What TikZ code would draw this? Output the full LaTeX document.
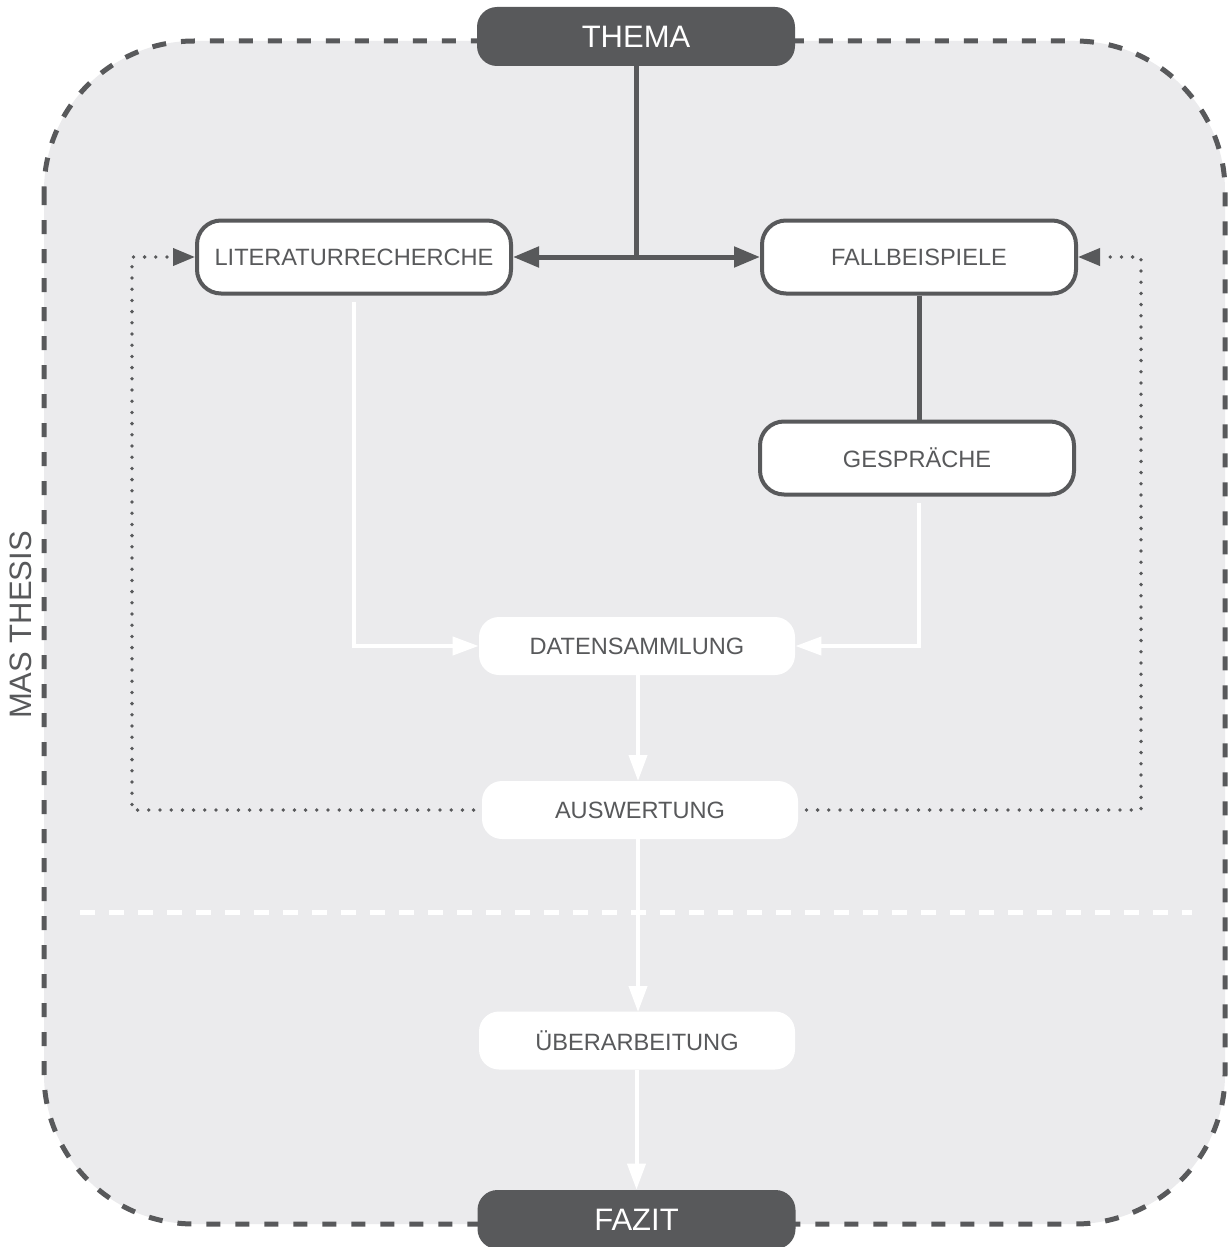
\documentclass[tikz,border=0pt]{standalone}
\usepackage{fontspec}
\setmainfont{Liberation Sans}
\usetikzlibrary{arrows.meta}
\definecolor{dk}{HTML}{58595B}
\definecolor{bg}{HTML}{EBEBED}
\begin{document}
\begin{tikzpicture}[x=0.5pt,y=-0.5pt,
  titlebox/.style={fill=dk, text=white, rounded corners=10pt, minimum width=159pt, minimum height=29.5pt, inner sep=0pt, font=\fontsize{15.5}{18}\selectfont},
  framebox/.style={draw=dk, line width=2pt, fill=white, text=dk, rounded corners=12pt, minimum width=157pt, minimum height=36.5pt, inner sep=0pt, font=\fontsize{11.8}{14}\selectfont},
  plainbox/.style={fill=white, text=dk, rounded corners=10pt, minimum width=158pt, minimum height=29pt, inner sep=0pt, font=\fontsize{11.8}{14}\selectfont},
  darkline/.style={draw=dk, line width=2.5pt},
  darkarrow/.style={darkline, -{Triangle[length=13pt,width=10pt]}},
  whitearrow/.style={draw=white, line width=2pt, -{Triangle[length=13pt,width=9pt]}},
  dotline/.style={draw=dk, line width=1.9pt, line cap=round, dash pattern=on 0pt off 5.6pt, -{Triangle[length=11pt,width=8.5pt]}},
  outerframe/.style={draw=dk, fill=bg, line width=2.5pt, dash pattern=on 7pt off 7.5pt, rounded corners=75pt},
  sepline/.style={draw=white, line width=2.5pt, dash pattern=on 7.5pt off 7pt}
]
\useasboundingbox (0,0) rectangle (1227,1247);
\fill[white] (0,0) rectangle (1227,1247);

% outer frame
\draw[outerframe] (44,41) rectangle (1225,1224);
% separator
\draw[sepline] (80,912) -- (1192,912);

% side label
\node[text=dk, rotate=90, font=\fontsize{15.5}{18}\selectfont] (mas) at (21,625) {MAS THESIS};

% nodes
\node[titlebox] (thema) at (636,36.5) {THEMA};
\node[titlebox] (fazit) at (636.5,1219.5) {FAZIT};
\node[framebox] (lit) at (354,257) {LITERATURRECHERCHE};
\node[framebox] (fall) at (919,257) {FALLBEISPIELE};
\node[framebox] (gesp) at (917,458) {GESPRÄCHE};
\node[plainbox] (daten) at (637,646) {DATENSAMMLUNG};
\node[plainbox] (ausw) at (640,810) {AUSWERTUNG};
\node[plainbox] (ueber) at (637,1040.5) {ÜBERARBEITUNG};

\coordinate (j) at (636,257);
\coordinate (dl) at (132,810);
\coordinate (dr) at (1141,810);

% dark connectors
\draw[darkline] (thema.south) -- (j);
\draw[darkarrow] (j) -- (lit.east);
\draw[darkarrow] (j) -- (fall.west);
\draw[darkline] (fall.south) -- (fall.south |- gesp.north);

% white connectors
\draw[whitearrow] ([yshift=-3pt]lit.south) |- (daten.west);
\draw[whitearrow] ([yshift=-3pt]gesp.south -| fall.south) |- (daten.east);
\draw[whitearrow] (638,675) -- (638,781);
\draw[whitearrow] (638,839) -- (638,1012);
\draw[whitearrow] (ueber.south -| fazit.north) -- (fazit.north);

% dotted feedback
\draw[dotline] ([xshift=-4pt]ausw.west) -- (dl) |- (lit.west);
\draw[dotline] ([xshift=4pt]ausw.east) -- (dr) |- (fall.east);
\end{tikzpicture}
\end{document}
